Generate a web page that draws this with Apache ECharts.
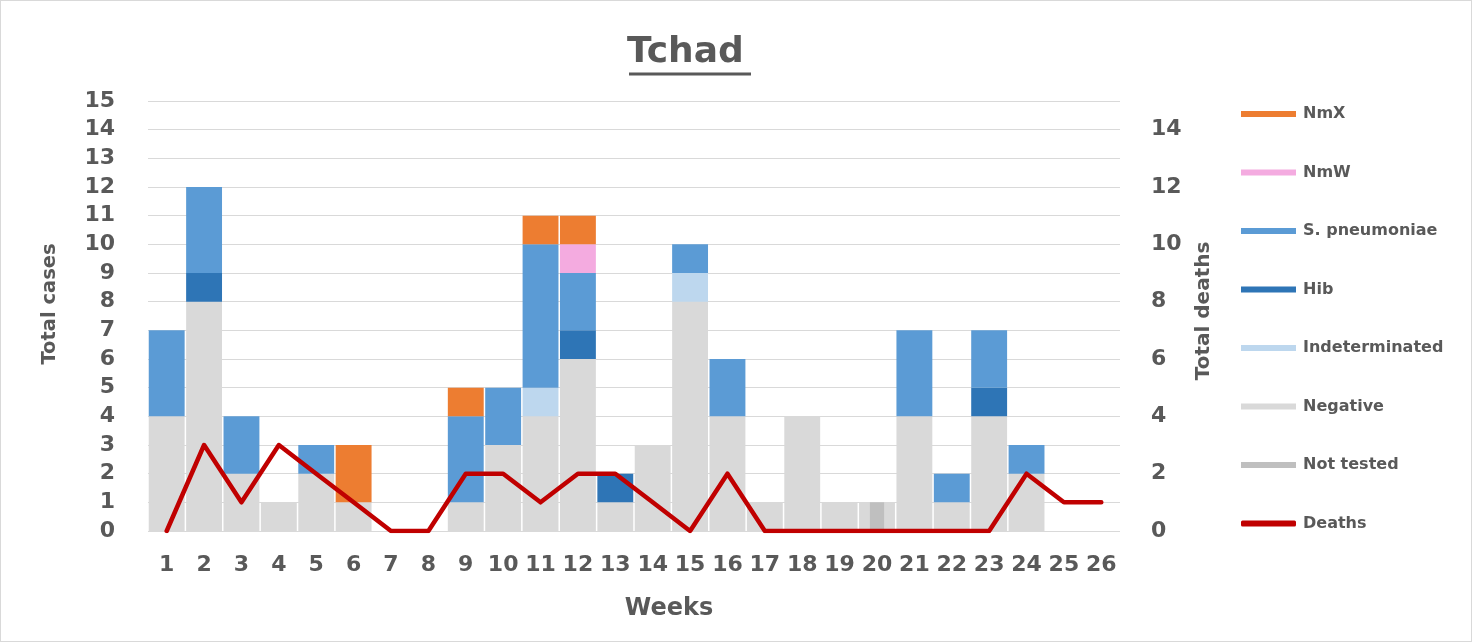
<!DOCTYPE html>
<html>
<head>
<meta charset="utf-8">
<script src="https://cdn.jsdelivr.net/npm/echarts@6/dist/echarts.min.js"></script>
<style>
html,body{margin:0;padding:0;background:#fff;}
#chart{width:1470px;height:640px;border:1px solid #D9D9D9;}
</style>
</head>
<body>
<div id="chart"></div>
<script>
var weeks = ['1','2','3','4','5','6','7','8','9','10','11','12','13','14','15','16','17','18','19','20','21','22','23','24','25','26'];
var negative       = [4,8,2,1,2,1,0,0,1,3,4,6,1,3,8,4,1,4,1,1,4,1,4,2,0,0];
var indeterminated = [0,0,0,0,0,0,0,0,0,0,1,0,0,0,1,0,0,0,0,0,0,0,0,0,0,0];
var hib            = [0,1,0,0,0,0,0,0,0,0,0,1,1,0,0,0,0,0,0,0,0,0,1,0,0,0];
var spneumoniae    = [3,3,2,0,1,0,0,0,3,2,5,2,0,0,1,2,0,0,0,0,3,1,2,1,0,0];
var nmW            = [0,0,0,0,0,0,0,0,0,0,0,1,0,0,0,0,0,0,0,0,0,0,0,0,0,0];
var nmX            = [0,0,0,0,0,2,0,0,1,0,1,1,0,0,0,0,0,0,0,0,0,0,0,0,0,0];
var notTested      = [0,0,0,0,0,0,0,0,0,0,0,0,0,0,0,0,0,0,0,1,0,0,0,0,0,0];
var deaths         = [0,3,1,3,2,1,0,0,2,2,1,2,2,1,0,2,0,0,0,0,0,0,0,2,1,1];

var FONT = '"DejaVu Sans"';
var TXT = '#595959';

function bar(name, data, color) {
  return {
    name: name, type: 'bar', stack: 'cases', data: data,
    barCategoryGap: '4%',
    itemStyle: { color: color },
    emphasis: { disabled: true }
  };
}

var chart = echarts.init(document.getElementById('chart'), null, { renderer: 'canvas' });
chart.setOption({
  animation: false,
  textStyle: { fontFamily: FONT },
  title: {
    text: 'Tchad',
    left: 621, top: 29,
    textStyle: { fontFamily: FONT, fontSize: 36, fontWeight: 'bold', color: TXT }
  },
  graphic: [{
    type: 'line',
    shape: { x1: 628, y1: 73, x2: 750, y2: 73 },
    style: { stroke: TXT, lineWidth: 3 }
  }],
  legend: {
    orient: 'vertical',
    left: 1235, top: 99,
    itemWidth: 55, itemHeight: 6, itemGap: 40.5,
    textStyle: { fontFamily: FONT, fontSize: 16, fontWeight: 'bold', color: TXT, lineHeight: 18, padding: [0, 0, 0, 2] },
    data: [
      { name: 'NmX', icon: 'rect' },
      { name: 'NmW', icon: 'rect' },
      { name: 'S. pneumoniae', icon: 'rect' },
      { name: 'Hib', icon: 'rect' },
      { name: 'Indeterminated', icon: 'rect' },
      { name: 'Negative', icon: 'rect' },
      { name: 'Not tested', icon: 'rect' },
      { name: 'Deaths', icon: 'roundRect' }
    ],
    selectedMode: false
  },
  grid: { left: 147, top: 100, width: 972, height: 430 },
  xAxis: [{
    type: 'category', data: weeks,
    axisLine: { show: false }, axisTick: { show: false },
    axisLabel: { fontFamily: FONT, fontSize: 22, fontWeight: 'bold', color: TXT, margin: 23, interval: 0 },
    name: 'Weeks', nameLocation: 'middle', nameGap: 66,
    nameTextStyle: { fontFamily: FONT, fontSize: 24, fontWeight: 'bold', color: TXT, padding: [0, 0, 0, 70] }
  }, {
    type: 'category', data: weeks, show: false
  }],
  yAxis: [{
    type: 'value', min: 0, max: 15, interval: 1,
    axisLine: { show: false }, axisTick: { show: false },
    splitLine: { lineStyle: { color: '#D9D9D9', width: 1 } },
    axisLabel: { fontFamily: FONT, fontSize: 22, fontWeight: 'bold', color: TXT, margin: 33 },
    name: 'Total cases', nameLocation: 'middle', nameGap: 88, nameRotate: 90,
    nameTextStyle: { fontFamily: FONT, fontSize: 19.5, fontWeight: 'bold', color: TXT, padding: [0, 0, 0, 24] }
  }, {
    type: 'value', min: 0, max: 15, interval: 2,
    axisLine: { show: false }, axisTick: { show: false },
    splitLine: { show: false },
    axisLabel: { fontFamily: FONT, fontSize: 22, fontWeight: 'bold', color: TXT, margin: 31, showMaxLabel: false,
      formatter: function (v) { return v === 15 ? '' : String(v); } },
    name: 'Total deaths', nameLocation: 'middle', nameGap: 74, nameRotate: 90,
    nameTextStyle: { fontFamily: FONT, fontSize: 20, fontWeight: 'bold', color: TXT, padding: [0, 0, 0, 10] }
  }],
  series: [
    bar('Negative', negative, '#D9D9D9'),
    bar('Indeterminated', indeterminated, '#BDD7EE'),
    bar('Hib', hib, '#2E75B6'),
    bar('S. pneumoniae', spneumoniae, '#5B9BD5'),
    bar('NmW', nmW, '#F4ABE0'),
    bar('NmX', nmX, '#ED7D31'),
    {
      name: 'Not tested', type: 'bar', data: notTested, xAxisIndex: 1,
      barWidth: '38%', itemStyle: { color: '#BFBFBF' }, emphasis: { disabled: true }
    },
    {
      name: 'Deaths', type: 'line', yAxisIndex: 1, data: deaths,
      symbol: 'none', lineStyle: { color: '#C00000', width: 4.5, cap: 'round', join: 'round' },
      itemStyle: { color: '#C00000' }, emphasis: { disabled: true }, z: 5
    }
  ]
});
</script>
</body>
</html>
